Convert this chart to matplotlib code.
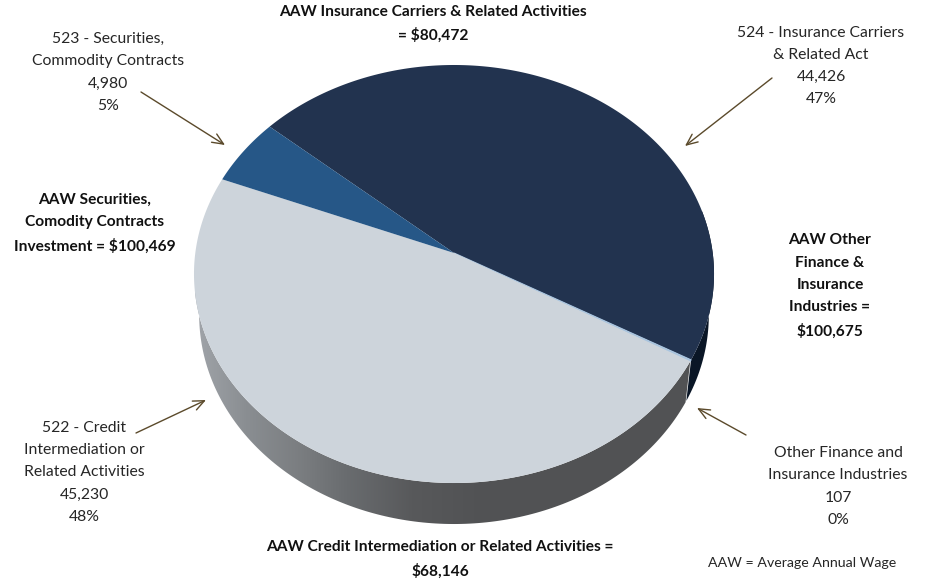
import numpy as np
import matplotlib
matplotlib.use('Agg')
import matplotlib.pyplot as plt
from matplotlib.colors import LinearSegmentedColormap
from matplotlib.patches import Polygon

#employment by industry, clockwise order round the pie
categories = ['524 - Insurance Carriers\n& Related Act', 'Other Finance and\nInsurance Industries',
              '522 - Credit\nIntermediation or\nRelated Activities', '523 - Securities,\nCommodity Contracts']
employment = [44426, 107, 45230, 4980]
slice_colors = ['#22334f', '#a9c4de', '#cdd4db', '#265787']
wall_colors = ['#0a1626', '#0a1626', None, None]

aaw_labels = ['AAW Insurance Carriers & Related Activities\n= $80,472',
              'AAW Other\nFinance &\nInsurance\nIndustries =\n$100,675',
              'AAW Credit Intermediation or Related Activities =\n$68,146',
              'AAW Securities,\nComodity Contracts\nInvestment = $100,469']

plt.rcParams['font.family'] = ['Lato', 'DejaVu Sans']

fig = plt.figure(figsize=(9.25, 5.81), dpi=100)
ax = fig.add_axes([0, 0, 1, 1])

#tilted pie: the circle goes through a small perspective so the apex sits above the ellipse centre
CX, CY = 454, 253
A, B, K = 258.7, 206.9, 0.1005
DEPTH = 41
SHRINK = 0.98  #lower rim is a bit narrower
START = 139.4


def project(angle, drop=0, scale=1):
    t = np.radians(angle)
    w = 1 + K * np.sin(t)
    return CX + scale * A * np.cos(t) / w, CY - B * np.sin(t) / w + drop


def wall(a0, a1):
    t = np.linspace(a0, a1, 200)
    x0, y0 = project(t)
    x1, y1 = project(t[::-1], DEPTH, SHRINK)
    return np.column_stack([np.r_[x0, x1], np.r_[y0, y1]])


total = sum(employment)
edges = START - np.cumsum([0] + employment) / total * 360

#side wall, grey gradient under the big light slice
cmap = LinearSegmentedColormap.from_list('wall', [(0, '#a0a4a9'), (0.1, '#8a8e92'), (0.21, '#7a7d80'),
                                                  (0.3, '#696c6f'), (0.43, '#58595b'), (0.55, '#525355'),
                                                  (1, '#515254')])
im = ax.imshow(np.linspace(0, 1, 256).reshape(1, -1), cmap=cmap, aspect='auto',
               extent=[195, 700, 560, 260], zorder=1)
side = Polygon(wall(edges[3], edges[2]), transform=ax.transData, facecolor='none', edgecolor='none')
ax.add_patch(side)
im.set_clip_path(side)

#navy bit of wall on the right
ax.fill(*wall(edges[1], 12).T, color=wall_colors[0], lw=0, zorder=1)

#top face
for i in range(len(employment)):
    t = np.linspace(edges[i], edges[i + 1], 200)
    x, y = project(t)
    ax.fill(np.r_[CX, x], np.r_[CY, y], color=slice_colors[i], lw=0.8 if i == 1 else 0, zorder=2)

#category labels with value and share
cat_pos = [(821, 66), (838, 486.5), (84, 472.5), (108, 72.5)]
for name, val, pos in zip(categories, employment, cat_pos):
    ax.text(pos[0], pos[1], f'{name}\n{val:,}\n{val / total * 100:.0f}%', ha='center', va='center',
            fontsize=11.3, color='#262626', linespacing=1.75)

aaw_pos = [(433, 24), (830, 286), (440, 559.5), (94.5, 223)]
for label, pos in zip(aaw_labels, aaw_pos):
    ax.text(pos[0], pos[1], label, ha='center', va='center', fontsize=11.2, fontweight='bold',
            color='#111111', linespacing=1.75)

ax.text(802, 563, 'AAW = Average Annual Wage', ha='center', va='center', fontsize=10.2, color='#262626')

#arrows
arrows = [((141, 92), (225, 145)), ((772, 78), (685, 146)), ((136, 433), (206, 400)), ((746, 435), (697, 408))]
for tail, tip in arrows:
    ax.annotate('', xy=tip, xytext=tail, zorder=3,
                arrowprops=dict(arrowstyle='->,head_length=0.8,head_width=0.35', color='#5b4a2b', lw=1.0,
                                shrinkA=0, shrinkB=0))

ax.set_xlim(0, 925)
ax.set_ylim(581, 0)
ax.axis('off')

fig.savefig('out.png', dpi=100)
